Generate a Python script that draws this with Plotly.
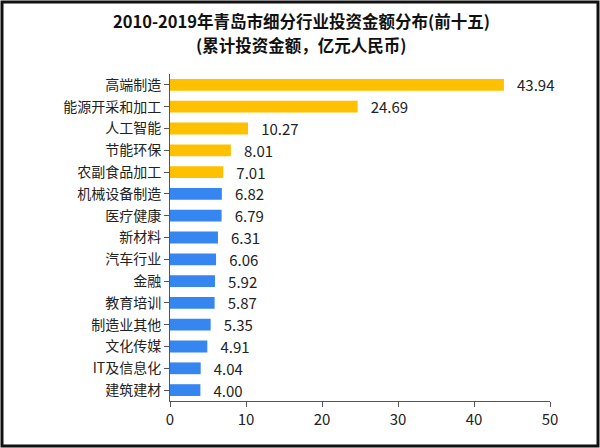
import plotly.graph_objects as go

categories = ["高端制造", "能源开采和加工", "人工智能", "节能环保", "农副食品加工",
              "机械设备制造", "医疗健康", "新材料", "汽车行业", "金融",
              "教育培训", "制造业其他", "文化传媒", "IT及信息化", "建筑建材"]
values = [43.94, 24.69, 10.27, 8.01, 7.01, 6.82, 6.79, 6.31, 6.06, 5.92,
          5.87, 5.35, 4.91, 4.04, 4.00]
highlight_count = 5
x_ticks = [0, 10, 20, 30, 40, 50]
title_lines = ["2010-2019年青岛市细分行业投资金额分布(前十五)", "(累计投资金额，亿元人民币)"]

ORANGE = "#FFC000"
BLUE = "#3586F0"
colors = [ORANGE if i < highlight_count else BLUE for i in range(len(values))]

font_family = "Noto Sans CJK SC, Noto Sans, sans-serif"

fig = go.Figure(go.Bar(
    y=categories,
    x=values,
    orientation="h",
    marker=dict(color=colors, line=dict(width=0)),
    text=["   " + f"{v:.2f}" for v in values],
    textposition="outside",
    constraintext="none",
    textfont=dict(size=15, color="#222222", family=font_family),
    cliponaxis=False,
))

L, R, T, B = 170, 50, 74, 47
W, H = 600, 448
pw, ph = W - L - R, H - T - B


def px_x(p):
    return (p - L) / pw


def px_y(p):
    return 1 - (p - T) / ph


annotations = [
    dict(text="<b>" + title_lines[0] + "</b>", xref="paper", yref="paper",
         x=px_x(301), y=px_y(21), xanchor="center", yanchor="middle",
         showarrow=False, font=dict(size=16.5, color="#111111", family=font_family)),
    dict(text="<b>" + title_lines[1] + "</b>", xref="paper", yref="paper",
         x=px_x(301), y=px_y(45), xanchor="center", yanchor="middle",
         showarrow=False, font=dict(size=16.5, color="#111111", family=font_family)),
]

inset = 2
shapes = [dict(
    type="rect", xref="paper", yref="paper",
    x0=px_x(inset), x1=px_x(W - inset),
    y0=px_y(H - inset), y1=px_y(inset),
    line=dict(color="#111111", width=3),
    fillcolor="rgba(0,0,0,0)",
)]

fig.update_layout(
    width=W, height=H,
    margin=dict(l=L, r=R, t=T, b=B, autoexpand=False),
    paper_bgcolor="white",
    plot_bgcolor="white",
    bargap=0.46,
    showlegend=False,
    font=dict(family=font_family, color="#222222"),
    annotations=annotations,
    shapes=shapes,
    xaxis=dict(
        range=[0, 50],
        tickvals=x_ticks,
        showgrid=False,
        zeroline=False,
        showline=True,
        linecolor="#555555",
        linewidth=1,
        ticks="outside",
        ticklen=5,
        tickcolor="#555555",
        tickfont=dict(size=15, color="#222222", family=font_family),
    ),
    yaxis=dict(
        autorange="reversed",
        showgrid=False,
        zeroline=False,
        showline=True,
        linecolor="#555555",
        linewidth=1,
        ticks="outside",
        ticklen=5,
        tickcolor="#555555",
        tickfont=dict(size=14, color="#222222", family=font_family),
    ),
)

fig.write_html(
    "out.html",
    config={"displayModeBar": False},
    post_script="document.body.style.margin='0';document.body.style.overflow='hidden';",
)
